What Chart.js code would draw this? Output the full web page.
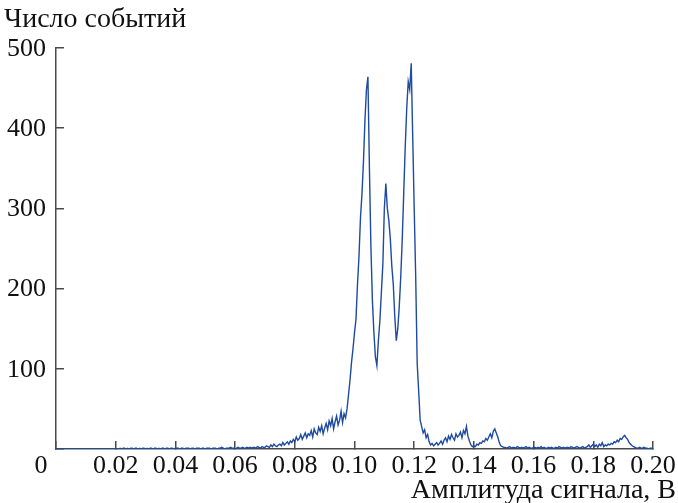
<!DOCTYPE html>
<html>
<head>
<meta charset="utf-8">
<script src="https://cdn.jsdelivr.net/npm/chart.js@4/dist/chart.umd.min.js"></script>
<style>
  html, body { margin: 0; padding: 0; background: #fff; }
  canvas { display: block; }
</style>
</head>
<body>
<canvas id="c" width="678" height="503"></canvas>
<script>
// Amplitude histogram: bin width in volts, counts per bin starting at 0 V
const binWidth = 0.0005;
const counts = [
  // 0.000 - 0.021
  0,0,0,0,0,0,0,0,0,0, 0,0,0,0,0,0,0,0,0,0,
  0,0,0,0,0,0,0,0,0,0, 0,0,0,0,0,0,0,0,0,0,
  0,0,0,
  // 0.0215 - 0.065
  1,0,1,1,0,1,0,1,1,0,1,1,0,1,0,1,1,0,
  1,0,1,1,0,1,1,0,1,0,1,1,0,1,1,0,1,1,0,1,
  1,1,0,1,1,0,1,1,1,0,1,1,0,1,1,1,0,1,1,0,
  1,1,1,0,1,1,1,0,1,1,2,1,0,1,1,1,2,1,1,0,
  1,2,1,1,2,1,1,2,1,2,
  // 0.0655 - 0.0975: slow rise
  1,2,2,1,3,2,1,3,2,
  2,4,3,2,5,3,6,4,3,5,
  6,4,8,5,7,9,6,10,8,12,
  9,15,11,13,18,12,16,20,14,19,
  17,23,15,25,20,18,27,22,29,19,
  26,32,24,35,29,38,25,34,41,30,
  36,47,33,44,39,
  // 0.0975 - 0.1245: main peaks
  50,68,86,108,125,145,162,205,240,288,
  318,358,410,448,464,350,252,185,145,115,
  104,135,160,195,230,300,331,300,285,262,
  228,205,165,135,150,178,215,262,320,377,
  425,458,448,481,390,300,215,107,72,36,
  28,20,24,14,18,
  // 0.125 - 0.150: two small bumps
  9,5,7,4,6,8,5,7,10,6,
  11,14,9,16,12,18,14,11,19,15,
  17,21,14,23,19,28,16,10,5,3,
  4,3,6,5,8,7,10,9,13,11,
  15,19,14,22,25,20,15,8,4,3,
  2,
  // 0.1505 - 0.177
  2,1,2,3,1,2,2,1,3,2,1,2,1,2,3,1,2,1,1,2,
  2,1,2,1,3,1,2,1,1,2,1,2,1,1,2,1,3,2,1,2,
  1,2,2,1,3,2,1,2,3,2,1,2,3,1,
  // 0.1775 - 0.200
  2,3,5,2,4,6,3,5,2,6,4,8,3,5,4,
  6,5,7,6,9,8,11,9,13,12,15,17,14,12,8,6,4,3,2,1,
  1,2,1,1,2,1,1,0,1,1,1
];

const xTicks = [0.02, 0.04, 0.06, 0.08, 0.10, 0.12, 0.14, 0.16, 0.18, 0.20];
const xTickLabels = ['0.02', '0.04', '0.06', '0.08', '0.10', '0.12', '0.14', '0.16', '0.18', '0.20'];
const yTicks = [100, 200, 300, 400, 500];
const yTickLabels = ['100', '200', '300', '400', '500'];
const originLabel = '0';
const yTitle = 'Число событий';
const xTitle = 'Амплитуда сигнала, В';

const points = counts.map((v, i) => ({ x: +(i * binWidth).toFixed(5), y: v }));

const TICK_FONT = '26px "Liberation Serif", "Times New Roman", serif';
const TITLE_FONT = '28px "Liberation Serif", "Times New Roman", serif';
const INK = '#111';
const AXIS = '#4a4a4a';

// Tick labels and axis titles in the style of a printed figure
const labelsPlugin = {
  id: 'printLabels',
  afterDraw(chart) {
    const { ctx, chartArea, scales } = chart;
    const xs = scales.x, ys = scales.y;
    ctx.save();
    ctx.fillStyle = INK;
    ctx.font = TICK_FONT;

    ctx.textAlign = 'right';
    ctx.textBaseline = 'middle';
    yTicks.forEach((v, k) => {
      ctx.fillText(yTickLabels[k], chartArea.left - 10, ys.getPixelForValue(v) + 1);
    });

    ctx.textAlign = 'center';
    const rowY = chartArea.bottom + 17;
    xTicks.forEach((v, k) => {
      ctx.fillText(xTickLabels[k], xs.getPixelForValue(v), rowY);
    });
    ctx.fillText(originLabel, chartArea.left - 15, rowY);

    ctx.font = TITLE_FONT;
    ctx.textAlign = 'right';
    ctx.fillText(xTitle, 676, chartArea.bottom + 42);

    ctx.textAlign = 'left';
    ctx.fillText(yTitle, 4, 20);
    ctx.restore();
  }
};

const axisCommon = {
  grid: { drawOnChartArea: false, drawTicks: true, tickLength: -8, color: AXIS, lineWidth: 1.5 },
  border: { color: AXIS, width: 1.5 }
};

new Chart(document.getElementById('c'), {
  type: 'line',
  data: {
    datasets: [{
      data: points,
      borderColor: '#1e4ba0',
      borderWidth: 1.4,
      pointRadius: 0,
      tension: 0,
      fill: false
    }]
  },
  options: {
    responsive: false,
    animation: false,
    devicePixelRatio: 1,
    layout: { padding: { left: 56, right: 25, top: 48, bottom: 54 } },
    plugins: { legend: { display: false }, tooltip: { enabled: false } },
    scales: {
      x: Object.assign({
        type: 'linear', min: 0, max: 0.2,
        ticks: { display: false, stepSize: 0.02 },
        afterFit(s) { s.height = 0; }
      }, axisCommon),
      y: Object.assign({
        type: 'linear', min: 0, max: 500,
        ticks: { display: false, stepSize: 100 },
        afterFit(s) { s.width = 0; }
      }, axisCommon)
    }
  },
  plugins: [labelsPlugin]
});
</script>
</body>
</html>
